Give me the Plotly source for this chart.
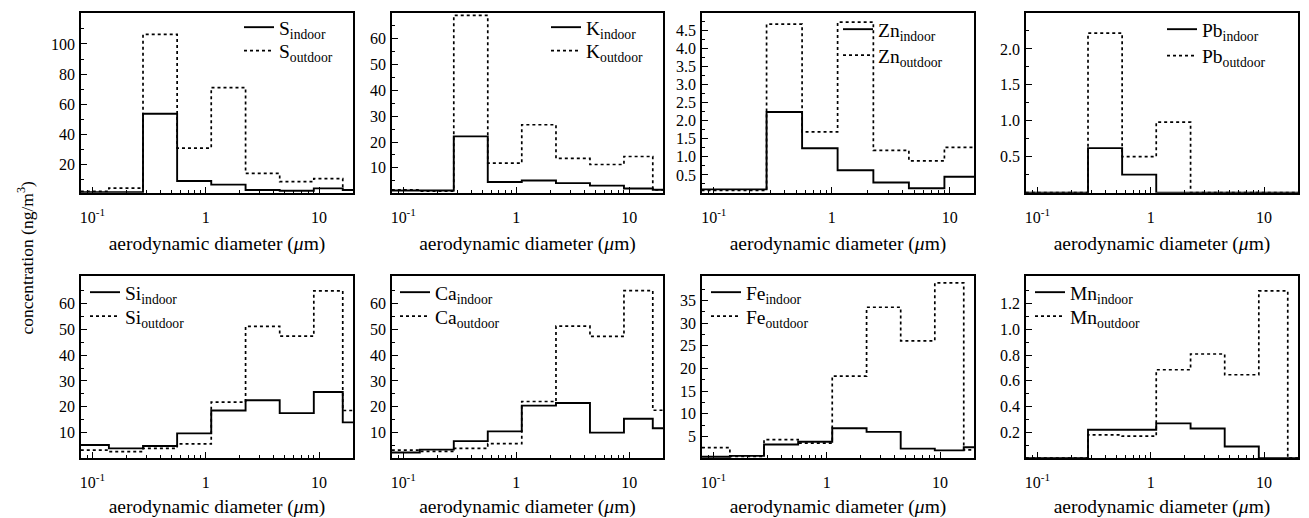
import plotly.graph_objects as go

# ---------------- data ----------------
# impactor stage boundaries (um); last bin runs past the plotted range
edges = [0.07, 0.14, 0.28, 0.56, 1.12, 2.25, 4.5, 9.0, 16.2, 32.0]

elements = ["S", "K", "Zn", "Pb", "Si", "Ca", "Fe", "Mn"]

S_indoor = [1.5, 1.5, 53.6, 8.9, 6.5, 3.0, 2.5, 4.0, 3.0]
S_outdoor = [2.0, 4.2, 106.4, 30.8, 71.0, 14.0, 8.5, 10.5, 3.0]
K_indoor = [1.2, 1.2, 22.2, 4.5, 5.1, 4.1, 3.1, 2.0, 1.5]
K_outdoor = [1.5, 1.0, 69.1, 11.8, 26.7, 13.7, 11.3, 14.4, 1.5]
Zn_indoor = [0.10, 0.10, 2.24, 1.24, 0.63, 0.29, 0.13, 0.45, 0.45]
Zn_outdoor = [0.07, 0.07, 4.67, 1.69, 4.73, 1.18, 0.89, 1.26, 1.26]
Pb_indoor = [0.0, 0.0, 0.62, 0.25, 0.0, 0.0, 0.0, 0.0, 0.0]
Pb_outdoor = [0.0, 0.0, 2.22, 0.50, 0.98, 0.0, 0.0, 0.0, 0.0]
Si_indoor = [5.1, 3.8, 4.7, 9.6, 18.5, 22.5, 17.5, 25.7, 13.9]
Si_outdoor = [3.1, 2.5, 3.8, 5.5, 21.8, 51.2, 47.4, 65.0, 18.5]
Ca_indoor = [2.2, 3.3, 6.6, 10.4, 20.4, 21.4, 9.9, 15.3, 11.6]
Ca_outdoor = [3.1, 2.6, 3.8, 5.6, 22.0, 51.3, 47.3, 65.1, 18.6]
Fe_indoor = [0.5, 0.7, 3.2, 3.8, 6.8, 6.0, 2.3, 1.9, 2.6]
Fe_outdoor = [2.5, 0.6, 4.3, 3.5, 18.3, 33.5, 26.1, 38.9, 2.0]
Mn_indoor = [0.0, 0.0, 0.22, 0.22, 0.27, 0.23, 0.09, 0.0, 0.0]
Mn_outdoor = [0.0, 0.0, 0.18, 0.17, 0.686, 0.808, 0.647, 1.298, 0.0]

indoor = [S_indoor, K_indoor, Zn_indoor, Pb_indoor, Si_indoor, Ca_indoor, Fe_indoor, Mn_indoor]
outdoor = [S_outdoor, K_outdoor, Zn_outdoor, Pb_outdoor, Si_outdoor, Ca_outdoor, Fe_outdoor, Mn_outdoor]

# axis settings per panel
y_ranges = [[1.2, 120.6], [0.4, 70.0], [0.01, 4.98], [0.0, 2.5],
            [0.0, 70.6], [0.0, 70.6], [0.2, 40.3], [0.0, 1.41]]
y_major = [[20, 40, 60, 80, 100], [10, 20, 30, 40, 50, 60],
           [0.5, 1.0, 1.5, 2.0, 2.5, 3.0, 3.5, 4.0, 4.5], [0.5, 1.0, 1.5, 2.0],
           [10, 20, 30, 40, 50, 60], [10, 20, 30, 40, 50, 60],
           [5, 10, 15, 20, 25, 30, 35], [0.2, 0.4, 0.6, 0.8, 1.0, 1.2]]
y_minor = [[10, 30, 50, 70, 90, 110], [5, 15, 25, 35, 45, 55, 65],
           [0.25, 0.75, 1.25, 1.75, 2.25, 2.75, 3.25, 3.75, 4.25, 4.75],
           [0.25, 0.75, 1.25, 1.75, 2.25],
           [5, 15, 25, 35, 45, 55, 65], [5, 15, 25, 35, 45, 55, 65],
           [2.5, 7.5, 12.5, 17.5, 22.5, 27.5, 32.5, 37.5],
           [0.1, 0.3, 0.5, 0.7, 0.9, 1.1, 1.3]]
y_format = [".0f", ".0f", ".1f", ".1f", ".0f", ".0f", ".0f", ".1f"]
x_ranges = [[-1.1, 1.3], [-1.1, 1.3], [-1.1, 1.205], [-1.1, 1.3],
            [-1.1, 1.3], [-1.1, 1.3], [-1.1, 1.3], [-1.1, 1.3]]
x_major = [0.1, 1, 10]
x_major_text = ["10<sup>-1</sup>", "1", "10"]
x_minor = [0.09, 0.2, 0.3, 0.4, 0.5, 0.6, 0.7, 0.8, 0.9,
           2, 3, 4, 5, 6, 7, 8, 9, 20]

# ---------------- layout geometry (page pixels) ----------------
OFF = 8                      # default page margin of the html body
W, H = 1309 - OFF, 518 - OFF
col_px = [(81, 353), (392, 663), (702, 974), (1026, 1298)]
row_px = [(12, 192), (276, 458)]
# legend sample-line start (x) and row centres (y) in page pixels
legend_pos = [(246, 26.5, 51.5), (553, 26.5, 51.5), (845, 30, 56), (1169, 30, 56.5),
              (92, 293, 317), (402, 293, 317), (713, 293, 317), (1037, 293, 317)]
LEG_DX, LEG_DY = 7, 20

FONT = "Liberation Serif, Times New Roman, Times, serif"

fig = go.Figure()
layout = dict(
    width=W, height=H,
    margin=dict(l=0, r=0, t=0, b=0),
    paper_bgcolor="white", plot_bgcolor="white",
    font=dict(family=FONT, color="black", size=16),
    showlegend=True,
    annotations=[],
)

leg_count = 0
for i, el in enumerate(elements):
    r, c = divmod(i, 4)
    n = i + 1
    xa = "xaxis" if n == 1 else f"xaxis{n}"
    ya = "yaxis" if n == 1 else f"yaxis{n}"
    xref = "x" if n == 1 else f"x{n}"
    yref = "y" if n == 1 else f"y{n}"

    lx, ly1, ly2 = legend_pos[i]
    legs = []
    for ly in (ly1, ly2):
        leg_count += 1
        name = "legend" if leg_count == 1 else f"legend{leg_count}"
        legs.append(name)
        layout[name] = dict(
            x=(lx - OFF - LEG_DX) / W, y=1 - (ly - OFF - LEG_DY) / H,
            xanchor="left", yanchor="top", xref="paper", yref="paper",
            bgcolor="rgba(0,0,0,0)", borderwidth=0,
            font=dict(family=FONT, size=19.5, color="black"),
            tracegroupgap=0, itemwidth=30,
        )

    yi = indoor[i] + [indoor[i][-1]]
    yo = outdoor[i] + [outdoor[i][-1]]

    fig.add_trace(go.Scatter(
        x=edges, y=yi, mode="lines", line=dict(shape="hv", color="black", width=1.9),
        name=f"{el}<sub>indoor</sub>", xaxis=xref, yaxis=yref, legend=legs[0],
        hoverinfo="skip"))
    fig.add_trace(go.Scatter(
        x=edges, y=yo, mode="lines",
        line=dict(shape="hv", color="black", width=1.7, dash="3px,3px"),
        name=f"{el}<sub>outdoor</sub>", xaxis=xref, yaxis=yref, legend=legs[1],
        hoverinfo="skip"))

    x0, x1 = (v - OFF for v in col_px[c])
    t0, t1 = (v - OFF for v in row_px[r])
    layout[xa] = dict(
        type="log", range=x_ranges[i], domain=[x0 / W, x1 / W], anchor=yref,
        showline=True, linecolor="black", linewidth=1.5, mirror=True,
        ticks="inside", ticklen=6, tickwidth=1, tickcolor="black",
        tickmode="array", tickvals=x_major, ticktext=x_major_text,
        tickfont=dict(family=FONT, size=16), ticklabelstandoff=9,
        minor=dict(ticks="inside", ticklen=3, tickwidth=1, tickcolor="black",
                   tickmode="array", tickvals=x_minor, showgrid=False),
        showgrid=False, zeroline=False, automargin=False,
        title=dict(text="aerodynamic diameter (<i>\u03bc</i>m)",
                   font=dict(family=FONT, size=19.5), standoff=12),
    )
    layout[ya] = dict(
        range=y_ranges[i], domain=[1 - t1 / H, 1 - t0 / H], anchor=xref,
        showline=True, linecolor="black", linewidth=1.5, mirror=True,
        ticks="inside", ticklen=6, tickwidth=1, tickcolor="black",
        tickmode="array", tickvals=y_major[i], tickformat=y_format[i],
        tickfont=dict(family=FONT, size=16), ticklabelstandoff=1,
        minor=dict(ticks="inside", ticklen=3, tickwidth=1, tickcolor="black",
                   tickmode="array", tickvals=y_minor[i], showgrid=False),
        showgrid=False, zeroline=False, automargin=False,
    )

layout["annotations"].append(dict(
    text="concentration (ng/m<sup>3</sup>)", x=(25 - OFF) / W, y=1 - (257 - OFF) / H,
    xref="paper", yref="paper", showarrow=False, textangle=-90,
    font=dict(family=FONT, size=17.5, color="black"),
    xanchor="center", yanchor="middle"))

fig.update_layout(**layout)
fig.write_html("out.html")
